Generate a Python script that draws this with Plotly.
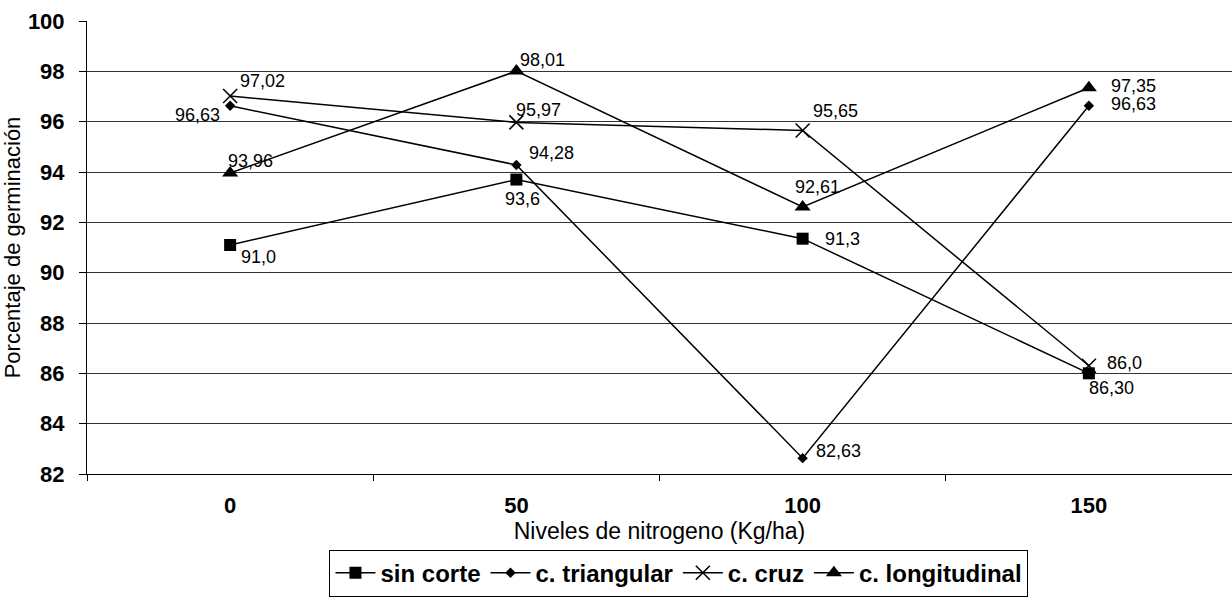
import plotly.graph_objects as go

categories = ["0", "50", "100", "150"]

sin_corte = [91.1, 93.7, 91.35, 86.0]
c_triangular = [96.63, 94.28, 82.63, 96.63]
c_cruz = [97.02, 95.97, 95.65, 86.3]
c_longitudinal = [93.96, 98.01, 92.61, 97.35]

lab_sin_corte = ["91,0", "93,6", "91,3", "86,30"]
lab_triangular = ["96,63", "94,28", "82,63", "96,63"]
lab_cruz = ["97,02", "95,97", "95,65", "86,0"]
lab_longitudinal = ["93,96", "98,01", "92,61", "97,35"]

y_ticks = [82, 84, 86, 88, 90, 92, 94, 96, 98, 100]

FONT = "Liberation Sans, Arial, sans-serif"

series = [
    ("sin corte", sin_corte, lab_sin_corte, dict(symbol="square", size=12, color="black")),
    ("c. triangular", c_triangular, lab_triangular, dict(symbol="diamond", size=8, color="black")),
    ("c. cruz", c_cruz, lab_cruz, dict(symbol="x-thin", size=14, color="black",
                                     line=dict(width=1.6, color="black"))),
    ("c. longitudinal", c_longitudinal, lab_longitudinal, dict(symbol="triangle-up", size=14, color="black")),
]

# label placement (xanchor, xshift, yshift) per series/point
label_pos = {
    "sin corte": [("left", 9, -12), ("center", 6, -19), ("left", 20, 0), ("left", -2, -15)],
    "c. triangular": [("right", -8, -9), ("left", 11, 12), ("left", 11, 7), ("left", 20, 2)],
    "c. cruz": [("left", 8, 15), ("left", -2, 12), ("left", 8, 19), ("left", 16, 3)],
    "c. longitudinal": [("left", -4, 12), ("left", 2, 11), ("left", -10, 20), ("left", 20, 2)],
}

fig = go.Figure()
annotations = []
for name, vals, labs, mk in series:
    fig.add_trace(go.Scatter(
        x=categories, y=vals, name=name, mode="lines+markers",
        line=dict(color="black", width=1.5),
        marker=mk,
    ))
    for i, (yv, t) in enumerate(zip(vals, labs)):
        anc, dx, dy = label_pos[name][i]
        annotations.append(dict(
            x=i, y=yv, xref="x", yref="y", text=t, showarrow=False,
            xanchor=anc, yanchor="middle", xshift=dx, yshift=dy,
            font=dict(family=FONT, size=18, color="black"),
        ))

fig.update_layout(
    width=1232, height=597,
    margin=dict(l=87, r=0, t=21, b=116),
    paper_bgcolor="white", plot_bgcolor="white",
    font=dict(family=FONT, color="black"),
    annotations=annotations,
    showlegend=True,
    legend=dict(
        orientation="h", x=0.517, xanchor="center", y=-0.167, yanchor="top",
        bordercolor="black", borderwidth=1, bgcolor="white",
        font=dict(family=FONT, size=24, color="black", weight="bold"),
        itemwidth=40, tracegroupgap=0,
    ),
)

fig.update_xaxes(
    type="category", range=[-0.5, 3.5], tickson="boundaries",
    ticks="outside", ticklen=6, tickcolor="black", tickwidth=1,
    showline=True, linecolor="black", linewidth=1, showgrid=False,
    ticklabelstandoff=12,
    tickfont=dict(family=FONT, size=22, color="black", weight="bold"),
    title=dict(text="Niveles de nitrogeno (Kg/ha)", standoff=4,
               font=dict(family=FONT, size=23, color="black")),
)
fig.update_yaxes(
    range=[82, 100], tickvals=y_ticks, ticktext=[str(v) for v in y_ticks],
    ticks="outside", ticklen=7, tickcolor="black", tickwidth=1,
    showline=True, linecolor="black", linewidth=1,
    showgrid=True, gridcolor="#333333", gridwidth=1, zeroline=False,
    ticklabelstandoff=10,
    tickfont=dict(family=FONT, size=22, color="black", weight="bold"),
    title=dict(text="Porcentaje de germinación", standoff=8,
               font=dict(family=FONT, size=22, color="black")),
)

fig.write_html("out.html")
